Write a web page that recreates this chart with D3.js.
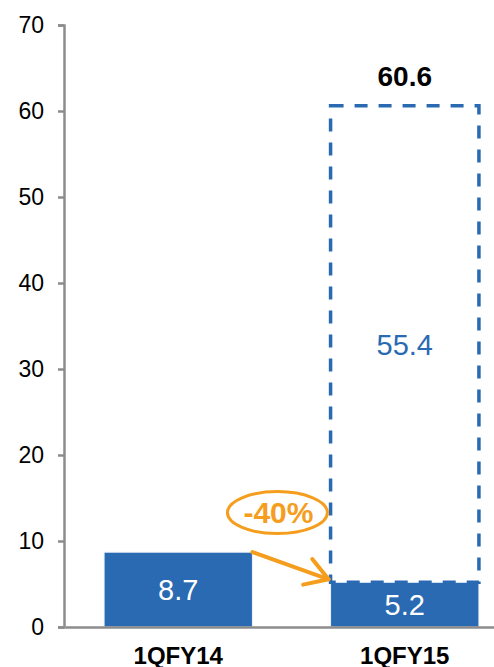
<!DOCTYPE html>
<html>
<head>
<meta charset="utf-8">
<script src="https://cdn.jsdelivr.net/npm/d3@7"></script>
<style>
	body { margin: 0; background: #fff; }
	svg { display: block; font-family: "Liberation Sans", Arial, sans-serif; }
</style>
</head>
<body>
<div id="grafic"></div>
<script>
// dades
var categories = ['1QFY14', '1QFY15'];
var valors = [8.7, 5.2];
var estalvi = [null, 55.4];
var total = [null, 60.6];
var canvi = '-40%';
var marques = [0, 10, 20, 30, 40, 50, 60, 70];

var blau = '#2a6ab2',
	taronja = '#f59d1c',
	gris = '#8c8c8c';

var Amplada = 494, Alçada = 667;

var llenç = d3.select('#grafic')
	.append('svg')
		.attr('width', Amplada)
		.attr('height', Alçada);

var y = d3.scaleLinear()
	.domain([0, 70])
	.range([627, 25]);

var x = d3.scaleBand()
	.domain(categories)
	.range([65, 518])
	.paddingInner(0.345)
	.paddingOuter(0.1725);

// eix y
var eixY = llenç.append('g')
	.attr('transform', 'translate(64,0)')
	.call(d3.axisLeft(y).tickValues(marques).tickSize(6).tickPadding(14));
eixY.select('.domain').attr('stroke', gris).attr('stroke-width', 2.5);
eixY.selectAll('.tick line').attr('stroke', gris).attr('stroke-width', 2.5);
eixY.selectAll('.tick text')
	.attr('font-size', 23)
	.attr('font-family', '"Liberation Sans", Arial, sans-serif')
	.attr('fill', '#000');

// barres
llenç.append('g')
	.selectAll('rect')
	.data(valors)
	.enter()
	.append('rect')
		.attr('x', (d, i) => x(categories[i]))
		.attr('y', d => y(d))
		.attr('width', x.bandwidth())
		.attr('height', d => y(0) - y(d))
		.attr('fill', blau)
		.attr('stroke', '#eef3fa')
		.attr('stroke-width', 1);

// rectangle discontinu (estalvi)
llenç.append('g')
	.selectAll('rect')
	.data(estalvi.map((d, i) => ({d: d, i: i})).filter(e => e.d !== null))
	.enter()
	.append('rect')
		.attr('x', e => x(categories[e.i]))
		.attr('y', e => y(valors[e.i] + e.d))
		.attr('width', x.bandwidth())
		.attr('height', e => y(valors[e.i]) - y(valors[e.i] + e.d))
		.attr('fill', 'none')
		.attr('stroke', blau)
		.attr('stroke-width', 3.5)
		.attr('stroke-dasharray', '13,11');

// eix x
var eixX = llenç.append('g')
	.attr('transform', `translate(0,${y(0)})`)
	.call(d3.axisBottom(x).tickSize(0).tickPadding(20));
eixX.select('.domain').attr('stroke', gris).attr('stroke-width', 2.5);
eixX.selectAll('.tick text')
	.attr('font-size', 24)
	.attr('font-weight', 'bold')
	.attr('font-family', '"Liberation Sans", Arial, sans-serif')
	.attr('fill', '#000');

// etiquetes de valors
llenç.append('g')
	.selectAll('text')
	.data(valors)
	.enter()
	.append('text')
		.attr('x', (d, i) => x(categories[i]) + x.bandwidth() / 2)
		.attr('y', d => y(d / 2))
		.attr('dy', '0.36em')
		.attr('text-anchor', 'middle')
		.attr('font-size', 29)
		.attr('fill', '#fff')
		.text(d => d.toFixed(1));

estalvi.forEach(function(d, i) {
	if (d === null) return;
	llenç.append('text')
		.attr('x', x(categories[i]) + x.bandwidth() / 2)
		.attr('y', y(valors[i] + d / 2))
		.attr('dy', '0.36em')
		.attr('text-anchor', 'middle')
		.attr('font-size', 29)
		.attr('fill', blau)
		.text(d.toFixed(1));
});

total.forEach(function(d, i) {
	if (d === null) return;
	llenç.append('text')
		.attr('x', x(categories[i]) + x.bandwidth() / 2)
		.attr('y', y(d) - 20)
		.attr('text-anchor', 'middle')
		.attr('font-size', 28)
		.attr('font-weight', 'bold')
		.attr('fill', '#000')
		.text(d.toFixed(1));
});

// anotació -40%
var x0 = x(categories[0]) + x.bandwidth(),
	x1 = x(categories[1]);
var cx = x0 + 25, cy = y(13.3);

llenç.append('ellipse')
	.attr('cx', cx)
	.attr('cy', cy)
	.attr('rx', 50)
	.attr('ry', 21)
	.attr('fill', '#fff')
	.attr('stroke', taronja)
	.attr('stroke-width', 3);

llenç.append('text')
	.attr('x', cx + 1)
	.attr('y', cy)
	.attr('dy', '0.36em')
	.attr('text-anchor', 'middle')
	.attr('font-size', 30)
	.attr('font-weight', 'bold')
	.attr('fill', taronja)
	.text(canvi);

var p0 = [x0, y(valors[0])],
	p1 = [x1 - 2, y(valors[1]) - 3];
var ang = Math.atan2(p1[1] - p0[1], p1[0] - p0[0]);
var cap = 26, obert = 0.55;

llenç.append('line')
	.attr('x1', p0[0]).attr('y1', p0[1])
	.attr('x2', p1[0]).attr('y2', p1[1])
	.attr('stroke', taronja)
	.attr('stroke-width', 4)
	.attr('stroke-linecap', 'round');

llenç.append('path')
	.attr('d', d3.line()([
		[p1[0] - cap * Math.cos(ang - obert), p1[1] - cap * Math.sin(ang - obert)],
		p1,
		[p1[0] - cap * Math.cos(ang + obert), p1[1] - cap * Math.sin(ang + obert)]
	]))
	.attr('fill', 'none')
	.attr('stroke', taronja)
	.attr('stroke-width', 4)
	.attr('stroke-linecap', 'round')
	.attr('stroke-linejoin', 'round');
</script>
</body>
</html>
